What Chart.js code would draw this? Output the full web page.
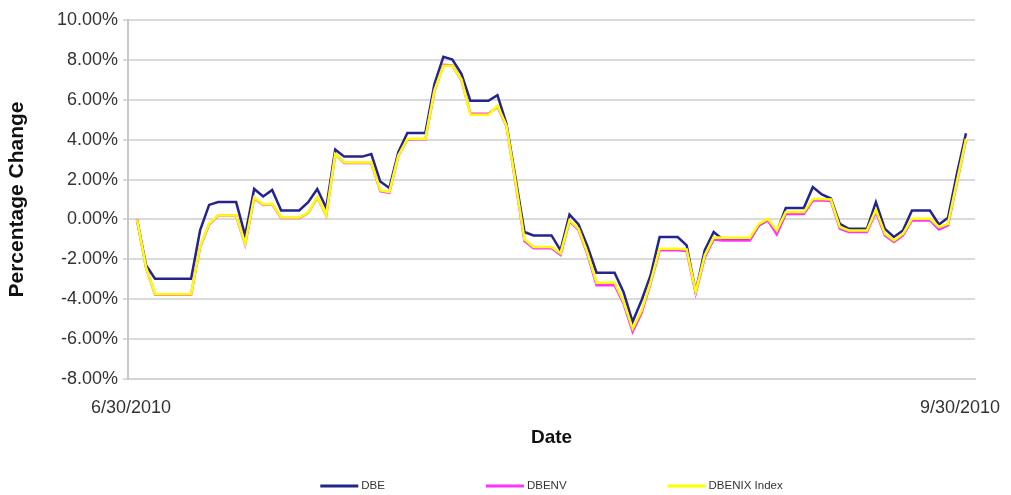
<!DOCTYPE html>
<html><head>
  <meta charset="UTF-8">
  <title>DBE / DBENV / DBENIX Index - Percentage Change</title>
  <script src="https://cdn.jsdelivr.net/npm/chart.js"></script>
  <style>html, body { margin: 0; padding: 0; background: #fff; }</style>
</head><body>
<canvas id="chart" width="1011" height="495"></canvas>
<script>
// days since 6/30/2010 (calendar days, weekends carried flat), one value per day
const xTickDays = [0, 92];
const xTickLabels = ['6/30/2010', '9/30/2010'];
const seriesNames = ['DBE', 'DBENV', 'DBENIX Index'];

// percentage change
const dbe = [
  0, -2.3, -2.97, -2.97, -2.97, -2.97, -2.97, -0.55, 0.73, 0.87,
  0.87, 0.87, -0.8, 1.53, 1.15, 1.48, 0.45, 0.45, 0.45, 0.87,
  1.53, 0.58, 3.5, 3.15, 3.15, 3.15, 3.28, 1.9, 1.58, 3.37,
  4.33, 4.33, 4.33, 6.78, 8.15, 8.02, 7.3, 5.95, 5.95, 5.95,
  6.23, 4.8, 2.1, -0.63, -0.8, -0.8, -0.8, -1.55, 0.25, -0.25,
  -1.35, -2.67, -2.67, -2.67, -3.65, -5.13, -4.05, -2.8, -0.88, -0.88,
  -0.88, -1.3, -3.63, -1.55, -0.63, -1.0, -1.0, -1.0, -1.0, -0.3,
  -0.02, -0.63, 0.57, 0.57, 0.57, 1.62, 1.25, 1.05, -0.22, -0.47,
  -0.47, -0.47, 0.87, -0.47, -0.88, -0.55, 0.45, 0.45, 0.45, -0.25,
  0.08, 2.3, 4.32
];
const dbenv = [
  0, -2.42, -3.78, -3.78, -3.78, -3.78, -3.78, -1.38, -0.25, 0.18,
  0.18, 0.18, -1.25, 1.08, 0.72, 0.76, 0.07, 0.07, 0.07, 0.33,
  1.1, 0.2, 3.26, 2.83, 2.83, 2.83, 2.83, 1.42, 1.34, 3.18,
  4.0, 4.02, 4.02, 6.42, 7.75, 7.72, 7.0, 5.3, 5.3, 5.3,
  5.65, 4.68, 1.85, -1.08, -1.45, -1.45, -1.45, -1.78, -0.1, -0.52,
  -1.78, -3.3, -3.3, -3.3, -4.22, -5.63, -4.68, -3.2, -1.55, -1.55,
  -1.55, -1.58, -3.7, -1.9, -1.0, -1.05, -1.05, -1.05, -1.05, -0.3,
  -0.05, -0.75, 0.27, 0.27, 0.27, 0.95, 0.95, 0.93, -0.47, -0.63,
  -0.63, -0.63, 0.37, -0.8, -1.13, -0.8, -0.05, -0.05, -0.05, -0.5,
  -0.3, 1.85, 4.0
];
const dbenix = [
  0, -2.4, -3.75, -3.75, -3.75, -3.75, -3.75, -1.35, -0.22, 0.2,
  0.2, 0.2, -1.22, 1.1, 0.75, 0.78, 0.1, 0.1, 0.1, 0.35,
  1.12, 0.22, 3.28, 2.85, 2.85, 2.85, 2.85, 1.45, 1.37, 3.2,
  4.03, 4.05, 4.05, 6.45, 7.7, 7.7, 7.03, 5.25, 5.25, 5.25,
  5.7, 4.7, 1.9, -1.0, -1.38, -1.38, -1.38, -1.7, -0.05, -0.47,
  -1.7, -3.17, -3.17, -3.17, -4.13, -5.47, -4.55, -3.13, -1.47, -1.47,
  -1.47, -1.5, -3.63, -1.8, -0.9, -0.92, -0.92, -0.92, -0.92, -0.22,
  0.03, -0.55, 0.37, 0.37, 0.37, 1.03, 1.03, 1.0, -0.38, -0.55,
  -0.55, -0.55, 0.48, -0.72, -1.05, -0.72, 0.03, 0.03, 0.03, -0.38,
  -0.22, 1.9, 4.05
];

const toPoints = (arr) => arr.map((v, i) => ({ x: i, y: v }));

// legend spread out like the original (Chart.js legend padding is also vertical)
const spreadLegend = {
  id: 'spreadLegend',
  afterDraw(chart, args, opts) {
    const { ctx, chartArea } = chart;
    ctx.save();
    ctx.font = opts.font;
    const items = chart.data.datasets.map((ds) => ({
      label: ds.label,
      color: ds.borderColor,
      w: opts.lineLength + opts.textGap + ctx.measureText(ds.label).width,
    }));
    const total = items.reduce((s, it) => s + it.w, 0) + opts.gap * (items.length - 1);
    let x = (chartArea.left + chartArea.right) / 2 - total / 2;
    const y = chart.height - opts.bottom;
    items.forEach((it) => {
      ctx.strokeStyle = it.color;
      ctx.lineWidth = opts.lineWidth;
      ctx.beginPath();
      ctx.moveTo(x, y);
      ctx.lineTo(x + opts.lineLength, y);
      ctx.stroke();
      ctx.fillStyle = opts.color;
      ctx.textAlign = 'left';
      ctx.textBaseline = 'middle';
      ctx.fillText(it.label, x + opts.lineLength + opts.textGap, y);
      x += it.w + opts.gap;
    });
    ctx.restore();
  },
};

const colors = ['#24248e', '#ff33ff', '#ffff00'];
const values = [dbe, dbenv, dbenix];

new Chart(document.getElementById('chart').getContext('2d'), {
  type: 'line',
  data: {
    datasets: seriesNames.map((name, i) => ({
      label: name,
      data: toPoints(values[i]),
      borderColor: colors[i],
      backgroundColor: colors[i],
      borderWidth: 2.5,
      pointRadius: 0,
      tension: 0,
      order: 3 - i, // last series drawn on top
    })),
  },
  options: {
    responsive: false,
    animation: false,
    events: [],
    layout: { padding: { top: 20, right: 36, left: 0, bottom: 0 } },
    plugins: {
      legend: { display: false },
      tooltip: { enabled: false },
      spreadLegend: {
        font: '11.5px "Liberation Sans", Arial, sans-serif',
        color: '#333',
        lineLength: 38,
        lineWidth: 3,
        textGap: 3,
        gap: 101,
        bottom: 9,
      },
    },
    scales: {
      x: {
        type: 'linear',
        min: -1,
        max: 93,
        afterFit: (s) => {
          s.height = 116;
          s.paddingLeft = 0;
          s.paddingRight = 0;
        },
        afterBuildTicks: (s) => { s.ticks = xTickDays.map((v) => ({ value: v })); },
        grid: { display: false, drawTicks: false },
        border: { display: true, color: '#d4d4d4', width: 2 },
        ticks: {
          autoSkip: false,
          maxRotation: 0,
          padding: 18,
          labelOffset: -6,
          color: '#333',
          font: { family: '"Liberation Sans", Arial, sans-serif', size: 18 },
          callback: (v) => xTickLabels[xTickDays.indexOf(v)],
        },
        title: {
          display: true,
          text: 'Date',
          color: '#111',
          font: { family: '"Liberation Sans", Arial, sans-serif', size: 19, weight: 'bold' },
          padding: { top: 0, bottom: 46 },
        },
      },
      y: {
        min: -8,
        max: 10,
        afterFit: (s) => { s.width = 128; },
        grid: { color: '#dadada', lineWidth: 2, tickLength: 5, drawTicks: true },
        border: { display: true, color: '#c8c8c8', width: 2 },
        ticks: {
          stepSize: 2,
          padding: 5,
          color: '#333',
          font: { family: '"Liberation Sans", Arial, sans-serif', size: 18 },
          callback: (v) => v.toFixed(2) + '%',
        },
        title: {
          display: true,
          text: 'Percentage Change',
          color: '#111',
          font: { family: '"Liberation Sans", Arial, sans-serif', size: 21, weight: 'bold' },
          padding: { top: 5, bottom: 0 },
        },
      },
    },
  },
  plugins: [spreadLegend],
});
</script>
</body></html>
